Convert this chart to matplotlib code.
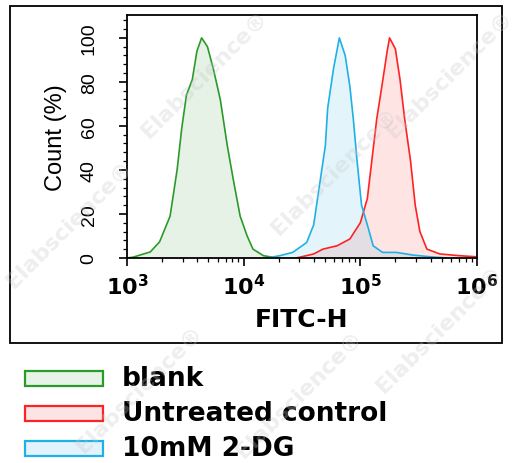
import numpy as np
import matplotlib
matplotlib.use("Agg")
import matplotlib.pyplot as plt
from matplotlib.patches import Rectangle
from matplotlib.ticker import FixedLocator, NullFormatter

plt.rcParams['font.family'] = ['DejaVu Sans']
plt.rcParams['mathtext.fontset'] = 'dejavusans'

# histogram outlines (log10 FITC-H, count %)
blank_log = [3.00, 3.05, 3.20, 3.28, 3.37, 3.43, 3.47, 3.51, 3.56, 3.60, 3.64, 3.69,
             3.74, 3.80, 3.86, 3.91, 3.97, 4.03, 4.08, 4.17, 4.25, 4.30]
blank_cnt = [0, 0.3, 2.7, 7.3, 19, 40, 59, 74, 81, 94, 100, 96,
             86, 72, 51, 36, 19, 10, 4, 1, 0.3, 0]

ctrl_log = [4.45, 4.48, 4.60, 4.68, 4.80, 4.91, 5.00, 5.06, 5.10, 5.14, 5.19, 5.23,
            5.25, 5.30, 5.34, 5.38, 5.43, 5.47, 5.51, 5.57, 5.68, 5.85, 6.00]
ctrl_cnt = [0, 0.3, 1.8, 4, 5.5, 8.6, 16, 27, 45, 63, 80, 94,
            100, 95, 81, 63, 44, 24, 12, 4, 1.8, 1, 0.5]

dg_log = [4.20, 4.31, 4.42, 4.54, 4.60, 4.65, 4.70, 4.72, 4.77, 4.82, 4.87, 4.91,
          4.94, 4.97, 5.01, 5.06, 5.11, 5.19, 5.31, 5.45, 5.60, 5.74]
dg_cnt = [0, 1, 2.5, 7, 15, 33, 51, 68, 86, 100, 92, 78,
          63, 45, 24, 15, 5.5, 2.5, 2.5, 1.3, 0.5, 0]

labels = ['blank', 'Untreated control', '10mM 2-DG']
line_colors = ['#2a9a2a', '#ff2222', '#1fb0e6']
fill_colors = ['#e6f3e6', '#fde4e4', '#e2f3fb']

fig = plt.figure(figsize=(5.18, 4.64), dpi=100)
ax = fig.add_axes([0.245, 0.442, 0.676, 0.524])

series = [(blank_log, blank_cnt), (ctrl_log, ctrl_cnt), (dg_log, dg_cnt)]
for (lx, cnt), lc, fc in zip(series, line_colors, fill_colors):
    xs = 10 ** np.array(lx)
    ax.fill_between(xs, cnt, 0, color=lc, alpha=0.12, lw=0)
    ax.plot(xs, cnt, color=lc, lw=1.2)

ax.set_xscale('log')
ax.set_xlim(1e3, 1e6)
ax.set_ylim(0, 110.5)

ax.set_xticks([1e3, 1e4, 1e5, 1e6])
ax.set_xticklabels([r'$\mathbf{10^{3}}$', r'$\mathbf{10^{4}}$',
                    r'$\mathbf{10^{5}}$', r'$\mathbf{10^{6}}$'], fontsize=16)
minor = [m * 10 ** e for e in range(3, 6) for m in range(2, 10)]
ax.xaxis.set_minor_locator(FixedLocator(minor))
ax.xaxis.set_minor_formatter(NullFormatter())

ax.set_yticks([0, 20, 40, 60, 80, 100])
ax.set_yticklabels(['0', '20', '40', '60', '80', '100'], rotation=90,
                   va='center', fontsize=14, family='Liberation Sans')
ax.yaxis.set_minor_locator(FixedLocator(np.arange(0, 111, 4)))

ax.tick_params(axis='both', which='major', direction='out', length=6, width=1.2)
ax.tick_params(axis='both', which='minor', direction='out', length=3, width=0.9)
ax.tick_params(axis='y', which='major', pad=15)
ax.tick_params(axis='x', which='major', pad=5)
for s in ax.spines.values():
    s.set_linewidth(1.3)

ax.set_ylabel('Count (%)', fontsize=17, family='Liberation Sans', labelpad=10)
ax.set_xlabel('FITC-H', fontsize=18, fontweight='bold', labelpad=6)

# outer frame round the chart
fig.patches.append(Rectangle((10 / 518, 1 - 344 / 464), 492 / 518, 337 / 464,
                             transform=fig.transFigure, fill=False,
                             edgecolor='black', lw=1.3))

# legend below the frame
for i, (lab, lc, fc) in enumerate(zip(labels, line_colors, fill_colors)):
    yc = 1 - (379 + 35 * i) / 464
    fig.patches.append(Rectangle((25 / 518, yc - 7.5 / 464), 78 / 518, 15 / 464,
                                 transform=fig.transFigure, facecolor=fc,
                                 edgecolor=lc, lw=1.6))
    fig.text(122 / 518, yc, lab, fontsize=19, fontweight='bold', va='center', ha='left')

# faint watermark
marks = [(205, 75), (70, 225), (335, 172), (450, 75), (140, 390), (440, 330), (300, 395)]
for (px, py) in marks:
    fig.text(px / 518, 1 - py / 464, 'Elabscience\u00ae', fontsize=16, fontweight='bold',
             color='#c8c8c8', alpha=0.3, rotation=45, ha='center', va='center', zorder=10)

fig.savefig('out.png', dpi=100)
